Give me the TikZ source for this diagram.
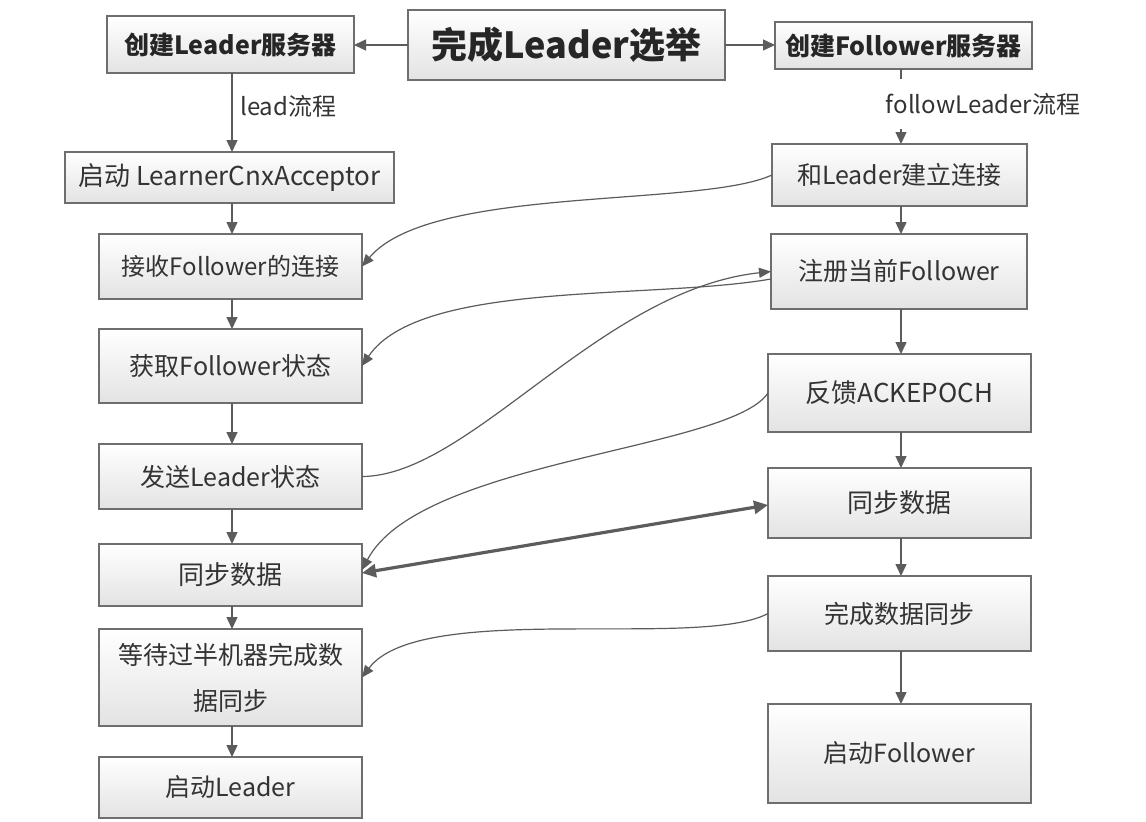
\documentclass[tikz,border=0pt]{standalone}
\usepackage{fontspec}
\setmainfont{Noto Sans CJK SC}
\usetikzlibrary{arrows.meta,shadows}
\definecolor{edge}{HTML}{6E6E6E}
\definecolor{linec}{HTML}{5C5C5C}
\definecolor{txt}{HTML}{333333}
\tikzset{
  box/.style={draw=edge, line width=1.4pt, top color=white, bottom color=black!11,
    inner sep=0pt, outer sep=0pt, align=center, text=txt,
    font=\fontsize{25}{40}\selectfont,
    drop shadow={shadow xshift=1.2pt, shadow yshift=-1.2pt, opacity=0.25}},
  bbox/.style={box, font=\fontsize{25}{30}\selectfont\bfseries, text=black!85},
  arr/.style={draw=linec, line width=1.4pt, -{Triangle[length=12pt,width=11pt]}},
  curv/.style={draw=linec, line width=1.2pt, -{Triangle[length=12pt,width=10pt]}},
  dbl/.style={draw=linec, line width=3.2pt, {Triangle[length=14pt,width=13pt]}-{Triangle[length=14pt,width=13pt]}},
  lbl/.style={fill=white, inner xsep=3pt, text=txt, font=\fontsize{24}{28}\selectfont}
}
\begin{document}
\begin{tikzpicture}[x=1pt,y=-1pt]
\useasboundingbox[fill=white] (0,0) rectangle (1146,822);
% top row
\node[bbox, minimum width=317pt, minimum height=70pt, font=\fontsize{36}{40}\selectfont\bfseries] (title) at (566.5,45) {完成Leader选举};
\node[bbox, minimum width=247pt, minimum height=57pt] (lserver) at (230.5,44.5) {创建Leader服务器};
\node[bbox, minimum width=257pt, minimum height=47pt] (fserver) at (903.5,45.5) {创建Follower服务器};
% left column
\node[box, minimum width=329pt, minimum height=51pt, font=\fontsize{26}{30}\selectfont] (acceptor) at (229.5,177.5) {启动 LearnerCnxAcceptor};
\node[box, minimum width=263pt, minimum height=65pt, font=\fontsize{24}{30}\selectfont] (recv) at (230.5,266.5) {接收Follower的连接};
\node[box, minimum width=263pt, minimum height=74pt] (getst) at (230.5,366) {获取Follower状态};
\node[box, minimum width=263pt, minimum height=65pt] (sendst) at (230.5,476.5) {发送Leader状态};
\node[box, minimum width=263pt, minimum height=62pt, font=\fontsize{26}{30}\selectfont] (lsync) at (230.5,575) {同步数据};
\node[box, minimum width=263pt, minimum height=97pt, font=\fontsize{25}{46}\selectfont] (wait) at (230.5,677.5) {等待过半机器完成数\\据同步};
\node[box, minimum width=263pt, minimum height=61pt] (lstart) at (230.5,787.5) {启动Leader};
% right column
\node[box, minimum width=255pt, minimum height=62pt] (conn) at (899.5,175) {和Leader建立连接};
\node[box, minimum width=256pt, minimum height=75pt] (reg) at (899,271.5) {注册当前Follower};
\node[box, minimum width=263pt, minimum height=78pt, font=\fontsize{26}{30}\selectfont] (ack) at (899.5,393) {反馈ACKEPOCH};
\node[box, minimum width=263pt, minimum height=70pt, font=\fontsize{26}{30}\selectfont] (rsync) at (899.5,503) {同步数据};
\node[box, minimum width=263pt, minimum height=75pt] (done) at (899.5,613.5) {完成数据同步};
\node[box, minimum width=263pt, minimum height=99pt] (fstart) at (899.5,753.5) {启动Follower};
% top arrows
\draw[arr] (title.west) -- (lserver.east |- title.west);
\draw[arr] (title.east) -- (fserver.west |- title.east);
% left vertical
\draw[arr] (232,73) -- (232,152);
\node[lbl, anchor=west] (llab) at (237,106) {lead流程};
\draw[arr] (232,203) -- (232,234);
\draw[arr] (232,299) -- (232,329);
\draw[arr] (232,403) -- (232,444);
\draw[arr] (232,509) -- (232,544);
\draw[arr] (232,606) -- (232,629);
\draw[arr] (232,726) -- (232,757);
% right vertical
\draw[arr] (901,69) -- (901,144);
\node[lbl, minimum height=50pt] (flab) at (983,104) {followLeader流程};
\draw[arr] (901,206) -- (901,234);
\draw[arr] (901,309) -- (901,354);
\draw[arr] (901,432) -- (901,468);
\draw[arr] (901,538) -- (901,576);
\draw[arr] (901,651) -- (901,704);
% curved message arrows
\draw[curv] (conn.west) .. controls (700,208) and (430,185) .. (recv.east);
\draw[curv] (sendst.east) .. controls (470,476) and (600,290) .. (reg.west);
\draw[curv] (771,279) .. controls (650,300) and (420,280) .. (getst.east);
\draw[curv] (ack.west) .. controls (730,450) and (420,460) .. (362,570);
\draw[dbl] (362,573) -- (768,505);
\draw[curv] (done.west) .. controls (700,650) and (420,600) .. (wait.east);
\end{tikzpicture}
\end{document}
